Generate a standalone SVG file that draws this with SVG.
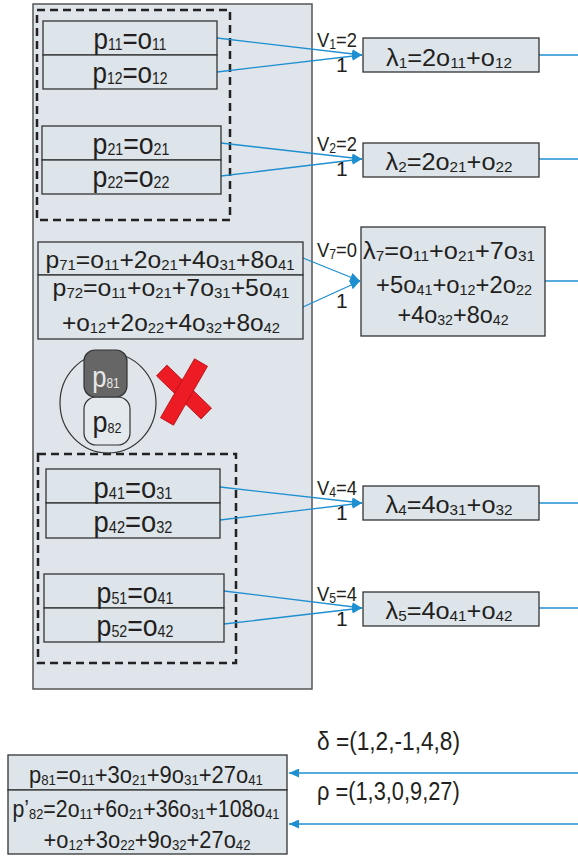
<svg xmlns="http://www.w3.org/2000/svg" width="578" height="857" viewBox="0 0 578 857">
<defs>
<style>
.panel{fill:#dfe5eb;stroke:#555;stroke-width:1.5}
.box{fill:#dde4ea;stroke:#333;stroke-width:1.3}
.dash{fill:none;stroke:#222;stroke-width:2.5;stroke-dasharray:8 5}
.con{fill:none;stroke:#1e8fd0;stroke-width:1.3}
text{font-family:"Liberation Sans",Arial,sans-serif;fill:#231f20}
.t{font-size:30px;text-anchor:middle}
.m{font-size:24px;text-anchor:middle}
.l{font-size:21px}
.g{font-size:25px}
.s{font-size:16px}
.q{font-size:14.5px}
.sl{font-size:14px}
</style>
<marker id="ah" markerWidth="11" markerHeight="9" refX="10" refY="4.5" orient="auto" markerUnits="userSpaceOnUse"><path d="M0,0 L10,4.5 L0,9 z" fill="#1e8fd0"/></marker>
</defs>
<rect width="578" height="857" fill="#fff"/>
<rect id="panel" class="panel" x="33" y="4" width="279" height="685"/>
<rect class="dash" x="37" y="10" width="193" height="210"/>
<rect class="dash" x="38" y="454" width="198" height="209"/>

<g id="connectors">
<line class="con" x1="217" y1="38" x2="362" y2="55" marker-end="url(#ah)"/>
<line class="con" x1="217" y1="72" x2="362" y2="55" marker-end="url(#ah)"/>
<line class="con" x1="221" y1="143" x2="362" y2="159" marker-end="url(#ah)"/>
<line class="con" x1="221" y1="176" x2="362" y2="159" marker-end="url(#ah)"/>
<line class="con" x1="303" y1="258" x2="360" y2="281" marker-end="url(#ah)"/>
<line class="con" x1="303" y1="307" x2="360" y2="281" marker-end="url(#ah)"/>
<line class="con" x1="220" y1="487" x2="362" y2="503" marker-end="url(#ah)"/>
<line class="con" x1="220" y1="520" x2="362" y2="503" marker-end="url(#ah)"/>
<line class="con" x1="224" y1="591" x2="362" y2="608" marker-end="url(#ah)"/>
<line class="con" x1="224" y1="624" x2="362" y2="608" marker-end="url(#ah)"/>
<line class="con" x1="539" y1="55" x2="578" y2="55"/>
<line class="con" x1="539" y1="159" x2="578" y2="159"/>
<line class="con" x1="545" y1="281" x2="578" y2="281"/>
<line class="con" x1="539" y1="503" x2="578" y2="503"/>
<line class="con" x1="539" y1="608" x2="578" y2="608"/>
<line class="con" x1="578" y1="773" x2="289" y2="773" marker-end="url(#ah)"/>
<line class="con" x1="578" y1="824" x2="289" y2="824" marker-end="url(#ah)"/>
<text class="l" transform="translate(317,47) scale(0.875,1)">V<tspan class="sl" dy="2">1</tspan><tspan dy="-2">=2</tspan></text>
<text class="l" x="336" y="72">1</text>
<text class="l" transform="translate(317,151) scale(0.875,1)">V<tspan class="sl" dy="2">2</tspan><tspan dy="-2">=2</tspan></text>
<text class="l" x="336" y="176">1</text>
<text class="l" transform="translate(317,257) scale(0.875,1)">V<tspan class="sl" dy="2">7</tspan><tspan dy="-2">=0</tspan></text>
<text class="l" x="336" y="308">1</text>
<text class="l" transform="translate(317,495) scale(0.875,1)">V<tspan class="sl" dy="2">4</tspan><tspan dy="-2">=4</tspan></text>
<text class="l" x="336" y="520">1</text>
<text class="l" transform="translate(317,601) scale(0.875,1)">V<tspan class="sl" dy="2">5</tspan><tspan dy="-2">=4</tspan></text>
<text class="l" x="336" y="626">1</text>
<text class="g" transform="translate(317,750) scale(0.907,1)">δ =(1,2,-1,4,8)</text>
<text class="g" transform="translate(317,800) scale(0.873,1)">ρ =(1,3,0,9,27)</text>
</g>

<g id="p1">
<rect class="box" x="43" y="21" width="174" height="34"/>
<rect class="box" x="43" y="55" width="174" height="34"/>
<text class="t" transform="translate(130,49) scale(0.867,1)">p<tspan class="s" dy="1">11</tspan><tspan dy="-1">=o</tspan><tspan class="s" dy="1">11</tspan></text>
<text class="t" transform="translate(130,83) scale(0.867,1)">p<tspan class="s" dy="1">12</tspan><tspan dy="-1">=o</tspan><tspan class="s" dy="1">12</tspan></text>
</g>
<g id="p2">
<rect class="box" x="42" y="126" width="179" height="34"/>
<rect class="box" x="42" y="160" width="179" height="34"/>
<text class="t" transform="translate(131,154) scale(0.89,1)">p<tspan class="s" dy="1">21</tspan><tspan dy="-1">=o</tspan><tspan class="s" dy="1">21</tspan></text>
<text class="t" transform="translate(131,187) scale(0.89,1)">p<tspan class="s" dy="1">22</tspan><tspan dy="-1">=o</tspan><tspan class="s" dy="1">22</tspan></text>
</g>
<g id="p7">
<rect class="box" x="38" y="242" width="265" height="33"/>
<rect class="box" x="38" y="275" width="265" height="64"/>
<text class="m" transform="translate(170,268) scale(1.027,1)">p<tspan class="q" dy="2">71</tspan><tspan dy="-2">=o</tspan><tspan class="q" dy="2">11</tspan><tspan dy="-2">+2o</tspan><tspan class="q" dy="2">21</tspan><tspan dy="-2">+4o</tspan><tspan class="q" dy="2">31</tspan><tspan dy="-2">+8o</tspan><tspan class="q" dy="2">41</tspan></text>
<text class="m" transform="translate(171,296) scale(1.034,1)">p<tspan class="q" dy="2">72</tspan><tspan dy="-2">=o</tspan><tspan class="q" dy="2">11</tspan><tspan dy="-2">+o</tspan><tspan class="q" dy="2">21</tspan><tspan dy="-2">+7o</tspan><tspan class="q" dy="2">31</tspan><tspan dy="-2">+5o</tspan><tspan class="q" dy="2">41</tspan></text>
<text class="m" transform="translate(171,331) scale(1.019,1)">+o<tspan class="q" dy="2">12</tspan><tspan dy="-2">+2o</tspan><tspan class="q" dy="2">22</tspan><tspan dy="-2">+4o</tspan><tspan class="q" dy="2">32</tspan><tspan dy="-2">+8o</tspan><tspan class="q" dy="2">42</tspan></text>
</g>
<g id="p8">
<ellipse cx="108" cy="403" rx="48" ry="50" fill="none" stroke="#333" stroke-width="1.2"/>
<rect x="84" y="397" width="46" height="48" rx="12" fill="#e4e9ee" stroke="#333" stroke-width="1.2"/>
<rect x="84" y="350" width="43" height="47" rx="11" fill="#666" stroke="#333" stroke-width="1.2"/>
<text class="t" transform="translate(106,387) scale(0.85,1)" style="fill:#e8e8e8">p<tspan class="sl" dy="1" style="fill:#e8e8e8">81</tspan></text>
<text class="t" transform="translate(107,432) scale(0.9,1)">p<tspan class="sl" dy="1">82</tspan></text>
</g>
<g id="cross" fill="#ed1c24" stroke="#b3121a" stroke-width="0.8">
<rect x="153" y="384.5" width="62" height="15" transform="rotate(44 184 392)"/>
<rect x="150" y="384.5" width="68" height="15" transform="rotate(-60 184 392)"/>
</g>
<g id="p4">
<rect class="box" x="46" y="469" width="174" height="34"/>
<rect class="box" x="46" y="503" width="174" height="35"/>
<text class="t" transform="translate(133,498) scale(0.913,1)">p<tspan class="s" dy="1">41</tspan><tspan dy="-1">=o</tspan><tspan class="s" dy="1">31</tspan></text>
<text class="t" transform="translate(133,532) scale(0.913,1)">p<tspan class="s" dy="1">42</tspan><tspan dy="-1">=o</tspan><tspan class="s" dy="1">32</tspan></text>
</g>
<g id="p5">
<rect class="box" x="44" y="574" width="180" height="34"/>
<rect class="box" x="44" y="608" width="180" height="34"/>
<text class="t" transform="translate(135,603) scale(0.89,1)">p<tspan class="s" dy="1">51</tspan><tspan dy="-1">=o</tspan><tspan class="s" dy="1">41</tspan></text>
<text class="t" transform="translate(135,636) scale(0.89,1)">p<tspan class="s" dy="1">52</tspan><tspan dy="-1">=o</tspan><tspan class="s" dy="1">42</tspan></text>
</g>

<g id="lambda1">
<rect class="box" x="363" y="38" width="176" height="34"/>
<text class="m" transform="translate(449,66) scale(1.055,1)">λ<tspan class="q" dy="2">1</tspan><tspan dy="-2">=2o</tspan><tspan class="q" dy="2">11</tspan><tspan dy="-2">+o</tspan><tspan class="q" dy="2">12</tspan></text>
</g>
<g id="lambda2">
<rect class="box" x="363" y="143" width="176" height="34"/>
<text class="m" transform="translate(449,170) scale(1.055,1)">λ<tspan class="q" dy="2">2</tspan><tspan dy="-2">=2o</tspan><tspan class="q" dy="2">21</tspan><tspan dy="-2">+o</tspan><tspan class="q" dy="2">22</tspan></text>
</g>
<g id="lambda7">
<rect class="box" x="361" y="227" width="184" height="109"/>
<text class="m" transform="translate(449,259) scale(1.056,1)">λ<tspan class="q" dy="2">7</tspan><tspan dy="-2">=o</tspan><tspan class="q" dy="2">11</tspan><tspan dy="-2">+o</tspan><tspan class="q" dy="2">21</tspan><tspan dy="-2">+7o</tspan><tspan class="q" dy="2">31</tspan></text>
<text class="m" transform="translate(454,293) scale(0.993,1)">+5o<tspan class="q" dy="2">41</tspan><tspan dy="-2">+o</tspan><tspan class="q" dy="2">12</tspan><tspan dy="-2">+2o</tspan><tspan class="q" dy="2">22</tspan></text>
<text class="m" transform="translate(453,323) scale(0.977,1)">+4o<tspan class="q" dy="2">32</tspan><tspan dy="-2">+8o</tspan><tspan class="q" dy="2">42</tspan></text>
</g>
<g id="lambda4">
<rect class="box" x="363" y="486" width="176" height="34"/>
<text class="m" transform="translate(449,513) scale(1.055,1)">λ<tspan class="q" dy="2">4</tspan><tspan dy="-2">=4o</tspan><tspan class="q" dy="2">31</tspan><tspan dy="-2">+o</tspan><tspan class="q" dy="2">32</tspan></text>
</g>
<g id="lambda5">
<rect class="box" x="363" y="592" width="176" height="34"/>
<text class="m" transform="translate(449,619) scale(1.055,1)">λ<tspan class="q" dy="2">5</tspan><tspan dy="-2">=4o</tspan><tspan class="q" dy="2">41</tspan><tspan dy="-2">+o</tspan><tspan class="q" dy="2">42</tspan></text>
</g>

<g id="bottom">
<rect class="box" x="8" y="755" width="279" height="35"/>
<rect class="box" x="8" y="790" width="279" height="64"/>
<text class="m" transform="translate(146,783) scale(0.915,1)">p<tspan class="q" dy="2">81</tspan><tspan dy="-2">=o</tspan><tspan class="q" dy="2">11</tspan><tspan dy="-2">+3o</tspan><tspan class="q" dy="2">21</tspan><tspan dy="-2">+9o</tspan><tspan class="q" dy="2">31</tspan><tspan dy="-2">+27o</tspan><tspan class="q" dy="2">41</tspan></text>
<text class="m" transform="translate(146,817) scale(0.887,1)">p’<tspan class="q" dy="2">82</tspan><tspan dy="-2">=2o</tspan><tspan class="q" dy="2">11</tspan><tspan dy="-2">+6o</tspan><tspan class="q" dy="2">21</tspan><tspan dy="-2">+36o</tspan><tspan class="q" dy="2">31</tspan><tspan dy="-2">+108o</tspan><tspan class="q" dy="2">41</tspan></text>
<text class="m" transform="translate(147,848) scale(0.911,1)">+o<tspan class="q" dy="2">12</tspan><tspan dy="-2">+3o</tspan><tspan class="q" dy="2">22</tspan><tspan dy="-2">+9o</tspan><tspan class="q" dy="2">32</tspan><tspan dy="-2">+27o</tspan><tspan class="q" dy="2">42</tspan></text>
</g>
</svg>
